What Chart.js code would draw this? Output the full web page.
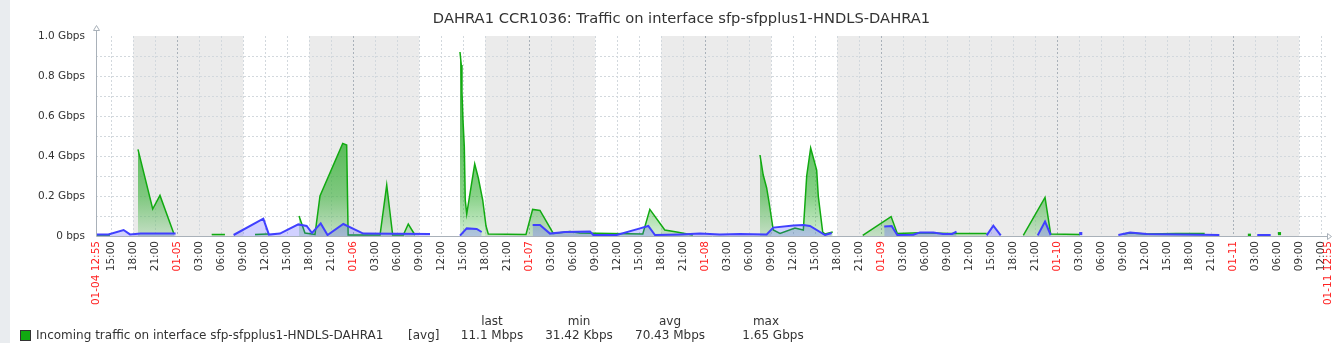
<!DOCTYPE html>
<html>
<head>
<meta charset="utf-8">
<script src="https://cdn.jsdelivr.net/npm/chart.js@4.4.0/dist/chart.umd.min.js"></script>
<style>
  html, body { margin: 0; padding: 0; background: #fff; }
  canvas { display: block; }
</style>
</head>
<body>
<canvas id="graph" width="1332" height="343"></canvas>
<script>
// hours counted from 01-04 00:00
const startHour = 12 + 55 / 60
const endHour = startHour + 168

// incoming traffic, Gbps (null = no data)
const inTimes = [12.92, 14.82, 15.5, 18.64, 20.65, 21.64, 23.55, 24.5, 28.69, 30.5, 31, 34.6, 36.37, 37,
    40.6, 41.41, 42.78, 43.46, 46.56, 47.1, 47.3, 51.65, 52.56, 53.37, 54.82, 55.5, 56.41, 57,
    62.55, 62.73, 62.82, 62.96, 63.14, 63.27, 63.47, 64.56, 65.05, 65.65, 66.1, 66.41, 71.55,
    72.46, 73.46, 75.27, 77.55, 78.9, 87.48, 88.44, 90.48, 92.1, 94.3, 95,
    103.46, 103.9, 104.37, 104.69, 105.27, 106.19, 108.23, 109.37, 109.83, 110.37, 111.19, 111.41,
    112.01, 112.33, 113.38, 114, 117.47, 121.34, 122.18, 125.3, 129.4, 134.37, 135,
    139.37, 142.33, 143.1, 147.1, 148, 153.0, 153.9, 156.2, 160.3, 163.0, 164.1, 165,
    170.2, 171, 174.3, 175]
const inValues = [0.005, 0.005, null, 0.433, 0.135, 0.203, 0.01, null, 0.008, 0.008, null, 0.008, 0.01, null,
    0.1, 0.015, 0.008, 0.2, 0.463, 0.455, 0.005, 0.005, 0.255, 0.005, 0.005, 0.06, 0.005, null,
    0.92, 0.855, 0.72, 0.58, 0.447, 0.18, 0.11, 0.36, 0.29, 0.18, 0.05, 0.01, 0.008,
    0.133, 0.128, 0.013, 0.022, 0.015, 0.01, 0.133, 0.03, 0.02, 0.005, null,
    0.405, 0.305, 0.24, 0.17, 0.03, 0.013, 0.04, 0.03, 0.3, 0.44, 0.33, 0.2,
    0.02, 0.01, 0.02, null, 0.003, 0.097, 0.013, 0.016, 0.012, 0.013, null,
    0.003, 0.193, 0.01, 0.008, null, 0.01, 0.015, 0.01, 0.013, 0.013, 0.013, null,
    0.004, null, 0.012, null]

// outgoing traffic, Gbps
const outTimes = [12.92, 14.6, 16.68, 17.55, 19, 23.77, 25, 31.68, 35.73, 36.5, 38.0, 40.5, 41.64, 42.37,
    43.56, 44.49, 46.64, 49.36, 58.46, 59, 62.55, 63.47, 64.83, 65.51, 66,
    72.46, 73.46, 74.82, 76.87, 80.28, 80.73, 83.92, 87.1, 88.23, 89.14, 92.55, 95.28, 98.0,
    100.73, 104.37, 105.27, 108.0, 109.37, 110.28, 112.33, 113.24, 114,
    120.4, 121.41, 122.18, 124.37, 125.28, 127.1, 128.4, 129.65, 130.26, 131,
    134.37, 135.28, 136.29, 137, 141.33, 142.33, 143.1, 144, 147.2, 148,
    152.33, 153.93, 156.2, 161.5, 166.1, 167, 171.27, 173.1, 174]
const outValues = [0.007, 0.008, 0.03, 0.008, 0.012, 0.012, null, 0.005, 0.087, 0.007, 0.012, 0.058, 0.05, 0.015,
    0.063, 0.005, 0.06, 0.012, 0.01, null, 0.002, 0.038, 0.035, 0.02, null,
    0.055, 0.055, 0.012, 0.02, 0.022, 0.005, 0.005, 0.038, 0.05, 0.005, 0.008, 0.012, 0.008,
    0.01, 0.008, 0.042, 0.052, 0.055, 0.05, 0.005, 0.015, null,
    0.047, 0.05, 0.005, 0.006, 0.018, 0.018, 0.01, 0.01, 0.022, null,
    0.003, 0.052, 0.003, null, 0.003, 0.072, 0.005, null, 0.012, null,
    0.005, 0.018, 0.01, 0.007, 0.005, null, 0.005, 0.005, null]

// non-working time, shaded
const offHours = [[18, 33], [42, 57], [66, 81], [90, 105], [114, 177]]

const yTickLabels = ['0 bps', '', '0.2 Gbps', '', '0.4 Gbps', '', '0.6 Gbps', '', '0.8 Gbps', '', '1.0 Gbps']

const titleText = 'DAHRA1 CCR1036: Traffic on interface sfp-sfpplus1-HNDLS-DAHRA1'
const legendName = 'Incoming traffic on interface sfp-sfpplus1-HNDLS-DAHRA1'
const statNames = ['last', 'min', 'avg', 'max']
const statValues = ['11.1 Mbps', '31.42 Kbps', '70.43 Mbps', '1.65 Gbps']

const GREEN = '#11aa11'
const BLUE = '#4040ff'
const RED = '#ff2020'
const TEXT = '#333333'

const pad = n => String(n).padStart(2, '0')
const isDateTick = v => v === startHour || v === endHour || v % 24 === 0

function timeLabel(h) {
    const day = 4 + Math.floor(h / 24)
    const mins = Math.round((h % 24) * 60)
    const hh = Math.floor(mins / 60), mm = mins % 60
    if (h === startHour || h === endHour) return `01-${pad(day)} ${pad(hh)}:${pad(mm)}`
    if (h % 24 === 0) return `01-${pad(day)}`
    return `${pad(hh)}:00`
}

function loneRadius(values) {
    return ctx => {
        const i = ctx.dataIndex
        const prev = i > 0 ? values[i - 1] : null
        const next = i < values.length - 1 ? values[i + 1] : null
        return values[i] !== null && prev === null && next === null ? 2.2 : 0
    }
}

function greenFill(ctx) {
    const area = ctx.chart.chartArea
    if (!area) return 'rgba(20,165,20,0.4)'
    const g = ctx.chart.ctx.createLinearGradient(0, area.bottom, 0, area.top)
    g.addColorStop(0, 'rgba(20,165,20,0.18)')
    g.addColorStop(0.2, 'rgba(20,165,20,0.5)')
    g.addColorStop(0.5, 'rgba(20,165,20,0.7)')
    g.addColorStop(1, 'rgba(20,165,20,0.9)')
    return g
}

const zabbixBits = {
    id: 'zabbixBits',
    beforeDraw(chart) {
        const {ctx, chartArea: a, scales: {x}} = chart
        ctx.save()
        ctx.fillStyle = '#e9ecef'
        ctx.fillRect(0, 0, 10, chart.height)
        ctx.fillStyle = '#ebebeb'
        offHours.forEach(([s, e]) => {
            const x1 = Math.max(x.getPixelForValue(s), a.left)
            const x2 = Math.min(x.getPixelForValue(e), a.right)
            ctx.fillRect(x1, a.top, x2 - x1, a.bottom - a.top)
        })
        ctx.restore()
    },
    afterDraw(chart) {
        const {ctx, chartArea: a} = chart
        ctx.save()
        // axes with arrows
        ctx.strokeStyle = '#a9b1b9'
        ctx.lineWidth = 1
        ctx.beginPath()
        ctx.moveTo(a.left + 0.5, a.top - 5)
        ctx.lineTo(a.left + 0.5, a.bottom + 0.5)
        ctx.lineTo(a.right + 0, a.bottom + 0.5)
        ctx.stroke()
        ctx.beginPath()
        ctx.moveTo(a.left - 2.5, a.top - 5.5)
        ctx.lineTo(a.left + 3.5, a.top - 5.5)
        ctx.lineTo(a.left + 0.5, a.top - 10.5)
        ctx.closePath()
        ctx.stroke()
        ctx.beginPath()
        ctx.moveTo(a.right - 0.5, a.bottom - 2.5)
        ctx.lineTo(a.right - 0.5, a.bottom + 3.5)
        ctx.lineTo(a.right + 3.5, a.bottom + 0.5)
        ctx.closePath()
        ctx.stroke()

        ctx.fillStyle = TEXT
        ctx.textBaseline = 'middle'
        ctx.font = '14.7px "DejaVu Sans"'
        ctx.textAlign = 'center'
        ctx.fillText(titleText, 681.5, 19)

        ctx.font = '12px "DejaVu Sans"'
        const cols = [492, 579, 670, 766]
        statNames.forEach((s, i) => ctx.fillText(s, cols[i], 322))
        statValues.forEach((s, i) => ctx.fillText(s, cols[i] + (i === 3 ? 7 : 0), 336))
        ctx.textAlign = 'left'
        ctx.fillText(legendName, 36, 336)
        ctx.fillText('[avg]', 408, 336)

        ctx.fillStyle = GREEN
        ctx.fillRect(20.5, 330.5, 10, 10)
        ctx.strokeStyle = '#333'
        ctx.strokeRect(20.5, 330.5, 10, 10)
        ctx.restore()
    }
}

Chart.defaults.font.family = '"DejaVu Sans"'

const ctx = document.getElementById('graph').getContext('2d')
const graph = new Chart(ctx, {
    type: 'line',
    data: {
        datasets: [{
            label: 'Outgoing',
            data: outTimes.map((t, i) => ({x: t, y: outValues[i]})),
            borderColor: BLUE,
            backgroundColor: 'rgba(64,64,255,0.24)',
            borderWidth: 2,
            fill: 'origin',
            pointRadius: loneRadius(outValues),
            pointStyle: 'rect',
            pointBorderWidth: 0,
            pointBackgroundColor: BLUE,
            order: 0
        }, {
            label: 'Incoming',
            data: inTimes.map((t, i) => ({x: t, y: inValues[i]})),
            borderColor: GREEN,
            backgroundColor: greenFill,
            borderWidth: 1.5,
            fill: 'origin',
            pointRadius: loneRadius(inValues),
            pointStyle: 'rect',
            pointBorderWidth: 0,
            pointBackgroundColor: GREEN,
            order: 1
        }]
    },
    options: {
        responsive: false,
        animation: false,
        spanGaps: false,
        layout: {padding: {left: 0, top: 36, right: 4, bottom: 0}},
        elements: {line: {tension: 0}},
        plugins: {
            legend: {display: false},
            tooltip: {enabled: false},
            title: {display: false}
        },
        scales: {
            x: {
                type: 'linear',
                min: startHour,
                max: endHour,
                afterBuildTicks: scale => {
                    const ticks = [{value: startHour}]
                    for (let h = 15; h < endHour; h += 3) ticks.push({value: h})
                    ticks.push({value: endHour})
                    scale.ticks = ticks
                },
                afterFit: scale => {
                    scale.height = 107
                    scale.paddingLeft = 0
                    scale.paddingRight = 0
                },
                ticks: {
                    autoSkip: false,
                    minRotation: 90,
                    maxRotation: 90,
                    padding: 5,
                    font: {size: 10.5},
                    color: c => isDateTick(c.tick.value) ? RED : TEXT,
                    callback: v => timeLabel(v)
                },
                grid: {
                    drawTicks: false,
                    color: c => {
                        const v = c.tick.value
                        if (v === startHour || v === endHour) return 'rgba(0,0,0,0)'
                        return v % 24 === 0 ? '#a9b1b9' : '#d2d8dd'
                    }
                },
                border: {display: false, dash: [2, 2]}
            },
            y: {
                min: 0,
                max: 1,
                afterBuildTicks: scale => {
                    scale.ticks = yTickLabels.map((_, i) => ({value: i / 10}))
                },
                afterFit: scale => {
                    scale.width = 96
                    scale.paddingTop = 0
                    scale.paddingBottom = 0
                },
                ticks: {
                    padding: 11,
                    font: {size: 10.5},
                    color: TEXT,
                    callback: (v, i) => yTickLabels[i]
                },
                grid: {
                    drawTicks: false,
                    color: c => (c.tick.value === 0 || c.tick.value === 1) ? 'rgba(0,0,0,0)' : '#d2d8dd'
                },
                border: {display: false, dash: [2, 2]}
            }
        }
    },
    plugins: [zabbixBits]
})
</script>
</body>
</html>
